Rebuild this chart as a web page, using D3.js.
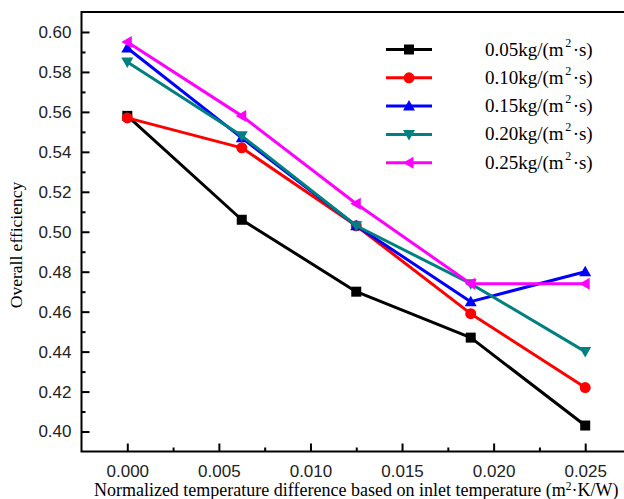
<!DOCTYPE html>
<html>
<head>
<meta charset="utf-8">
<script src="https://cdn.jsdelivr.net/npm/d3@7"></script>
<style>
  html, body { margin: 0; padding: 0; background: #fff; overflow: hidden; }
  svg { display: block; }
</style>
</head>
<body>
<svg id="chart" width="624" height="499"></svg>
<script>
// ---- data ----
const xValues = [0, 0.00625, 0.0125, 0.01875, 0.025];
const seriesNames = ["0.05kg/(m", "0.10kg/(m", "0.15kg/(m", "0.20kg/(m", "0.25kg/(m"];
const s005 = [0.558, 0.506, 0.470, 0.447, 0.403];
const s010 = [0.557, 0.542, 0.503, 0.459, 0.422];
const s015 = [0.592, 0.547, 0.503, 0.465, 0.480];
const s020 = [0.585, 0.548, 0.503, 0.474, 0.440];
const s025 = [0.595, 0.558, 0.514, 0.474, 0.474];
const xTickValues = [0, 0.005, 0.010, 0.015, 0.020, 0.025];
const yTickValues = [0.40, 0.42, 0.44, 0.46, 0.48, 0.50, 0.52, 0.54, 0.56, 0.58, 0.60];
const xTitle = "Normalized temperature difference based on inlet temperature (m";
const yTitle = "Overall efficiency";

const seriesValues = [s005, s010, s015, s020, s025];
const colors = ["#000000", "#ff0000", "#0000ff", "#008080", "#ff00ff"];
const symbols = ["square", "circle", "up", "down", "left"];

// ---- layout ----
const svg = d3.select("#chart");
const mLeft = 81.5, mRight = 631, mTop = 12, mBottom = 451.5;

const x = d3.scaleLinear().domain([-0.0025, 0.0275]).range([mLeft, mRight]);
const y = d3.scaleLinear().domain([0.39, 0.61]).range([mBottom, mTop]);

const sansFont = "'Liberation Sans', Arial, sans-serif";
const serifFont = "'Liberation Serif', 'Times New Roman', serif";

// minor ticks
const xMinor = d3.range(0, 12).map(i => i * 0.0025).filter(v => !xTickValues.some(t => Math.abs(t - v) < 1e-9) && v < 0.0274);
const yMinor = d3.range(0, 23).map(i => 0.39 + i * 0.01).filter(v => v > 0.3905 && v < 0.6095 && !yTickValues.some(t => Math.abs(t - v) < 1e-9));

const gxMinor = svg.append("g").attr("transform", `translate(0,${mBottom})`)
  .call(d3.axisBottom(x).tickValues(xMinor).tickSize(-4).tickFormat(""));
const gyMinor = svg.append("g").attr("transform", `translate(${mLeft},0)`)
  .call(d3.axisLeft(y).tickValues(yMinor).tickSize(-4).tickFormat(""));

const gx = svg.append("g").attr("transform", `translate(0,${mBottom})`)
  .call(d3.axisBottom(x).tickValues(xTickValues).tickSize(-8).tickPadding(13).tickFormat(d3.format(".3f")));
const gy = svg.append("g").attr("transform", `translate(${mLeft},0)`)
  .call(d3.axisLeft(y).tickValues(yTickValues).tickSize(-8).tickPadding(10).tickFormat(d3.format(".2f")));

[gx, gy, gxMinor, gyMinor].forEach(g => {
  g.select(".domain").remove();
  g.selectAll(".tick line").attr("stroke", "#000").attr("stroke-width", 2);
  g.selectAll(".tick text").attr("font-family", sansFont).attr("font-size", 17).attr("fill", "#222");
});

// frame
svg.append("rect").attr("x", mLeft).attr("y", mTop).attr("width", mRight - mLeft).attr("height", mBottom - mTop)
  .attr("fill", "none").attr("stroke", "#000").attr("stroke-width", 2);

// axis titles
const xt = svg.append("text").attr("x", (mLeft + mRight) / 2).attr("y", 496)
  .attr("text-anchor", "middle").attr("font-family", serifFont).attr("font-size", 18).attr("fill", "#000");
xt.append("tspan").text(xTitle);
xt.append("tspan").attr("font-size", 11.5).attr("dy", -6).text("2");
xt.append("tspan").attr("dy", 6).text("·K/W)");

svg.append("text").attr("transform", `translate(22,245) rotate(-90)`)
  .attr("text-anchor", "middle").attr("font-family", serifFont).attr("font-size", 17.5).attr("fill", "#000")
  .text(yTitle);

// marker generator
function marker(g, type, color, size) {
  const s = size;
  if (type === "square") {
    g.append("rect").attr("x", -s / 2).attr("y", -s / 2).attr("width", s).attr("height", s).attr("fill", color);
  } else if (type === "circle") {
    g.append("circle").attr("r", s / 2 + 0.5).attr("fill", color);
  } else {
    const h = s * 0.6;
    let pts;
    if (type === "up") pts = [[0, -h], [h, h * 0.75], [-h, h * 0.75]];
    else if (type === "down") pts = [[0, h], [h, -h * 0.75], [-h, -h * 0.75]];
    else pts = [[-h, 0], [h * 0.75, -h], [h * 0.75, h]];
    g.append("path").attr("d", "M" + pts.map(p => p.join(",")).join("L") + "Z").attr("fill", color);
  }
}

const line = d3.line().x((d, i) => x(xValues[i])).y(d => y(d));

seriesValues.forEach((vals, k) => {
  svg.append("path").datum(vals).attr("d", line)
    .attr("fill", "none").attr("stroke", colors[k]).attr("stroke-width", 3).attr("stroke-linejoin", "round");
  vals.forEach((v, i) => {
    const g = svg.append("g").attr("transform", `translate(${x(xValues[i])},${y(v)})`);
    marker(g, symbols[k], colors[k], 10);
  });
});

// legend
const legendX1 = 386, legendX2 = 432, legendY0 = 49.5, legendDy = 28.3;
seriesNames.forEach((name, k) => {
  const yy = legendY0 + k * legendDy;
  svg.append("line").attr("x1", legendX1).attr("x2", legendX2).attr("y1", yy).attr("y2", yy)
    .attr("stroke", colors[k]).attr("stroke-width", 3);
  const g = svg.append("g").attr("transform", `translate(${(legendX1 + legendX2) / 2},${yy})`);
  marker(g, symbols[k], colors[k], 10);
  const t = svg.append("text").attr("x", 485).attr("y", yy + 6)
    .attr("font-family", serifFont).attr("font-size", 19).attr("fill", "#000");
  t.append("tspan").text(name);
  t.append("tspan").attr("font-size", 12).attr("dy", -9).attr("dx", 1.5).text("2");
  t.append("tspan").attr("dy", 9).attr("dx", 1.5).text("·s)");
});
</script>
</body>
</html>
